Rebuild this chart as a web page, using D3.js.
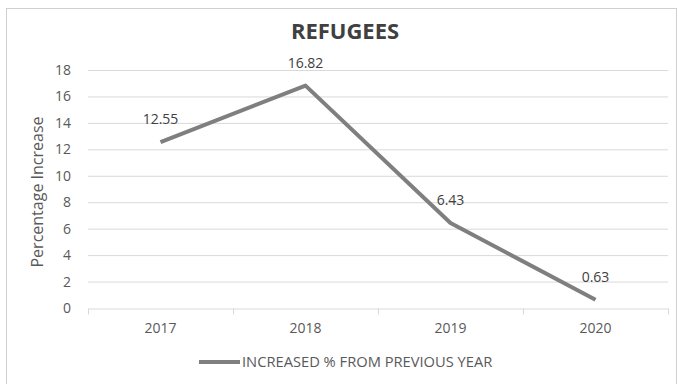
<!DOCTYPE html>
<html><head><meta charset="utf-8">
<script src="https://cdn.jsdelivr.net/npm/d3@7"></script>
<style>body{margin:0;background:#fff}svg{display:block}</style>
</head><body><svg id="c" width="678" height="384"></svg>
<script>
const years = ["2017","2018","2019","2020"];
const values = [12.55, 16.82, 6.43, 0.63];
const yTicks = [0,2,4,6,8,10,12,14,16,18];
const title = "REFUGEES";
const yTitle = "Percentage Increase";
const seriesName = "INCREASED % FROM PREVIOUS YEAR";

const svg = d3.select("#c");
const font = "'Open Sans',sans-serif";
const txt = "#595959";
svg.append("rect").attr("x",6.5).attr("y",8.5).attr("width",670).attr("height",380)
  .attr("fill","#fff").attr("stroke","#d0d0d0");

const L=88,R=668,T=70,B=308;
const x = d3.scaleBand().domain(years).range([L,R]);
const y = d3.scaleLinear().domain([0,18]).range([B,T]);

const g = svg.append("g");
g.selectAll("line.grid").data(yTicks.slice(1)).join("line")
  .attr("x1",L).attr("x2",R).attr("y1",d=>y(d)+0.5).attr("y2",d=>y(d)+0.5)
  .attr("stroke","#d9d9d9");

const ya = svg.append("g").attr("transform",`translate(${L},0)`)
  .call(d3.axisLeft(y).tickValues(yTicks).tickSize(0).tickPadding(17));
ya.select(".domain").remove();
ya.selectAll("text").attr("fill",txt).attr("font-size",14).attr("font-family",font);

const xa = svg.append("g").attr("transform",`translate(0,${B+0.5})`)
  .call(d3.axisBottom(x).tickSize(0).tickPadding(15));
xa.select(".domain").attr("stroke","#d9d9d9");
xa.selectAll("text").attr("fill",txt).attr("font-size",14).attr("font-family",font);
const bounds = years.map(d=>x(d)).concat([R]);
xa.selectAll("line.tk").data(bounds).join("line").attr("class","tk")
  .attr("x1",d=>d+0.5).attr("x2",d=>d+0.5).attr("y1",0).attr("y2",6).attr("stroke","#d9d9d9");

const cx = d=>x(d)+x.bandwidth()/2;
const line = d3.line().x((d,i)=>cx(years[i])).y(d=>y(d));
svg.append("path").datum(values).attr("d",line).attr("fill","none")
  .attr("stroke","#7f7f7f").attr("stroke-width",4).attr("stroke-linejoin","round");

svg.selectAll("text.lbl").data(values).join("text").attr("class","lbl")
  .attr("x",(d,i)=>cx(years[i])).attr("y",d=>y(d)-18)
  .attr("text-anchor","middle").attr("fill","#404040").attr("font-size",14).attr("font-family",font)
  .text(d=>d.toFixed(2));

svg.append("text").attr("x",345).attr("y",39).attr("text-anchor","middle")
  .attr("font-size",22).attr("font-weight","bold").attr("fill","#404040").attr("font-family",font).text(title);

svg.append("text").attr("transform",`translate(43,${(T+B)/2+3}) rotate(-90)`).attr("text-anchor","middle")
  .attr("font-size",16).attr("fill",txt).attr("font-family",font).text(yTitle);

svg.append("line").attr("x1",199).attr("x2",240).attr("y1",362).attr("y2",362)
  .attr("stroke","#7f7f7f").attr("stroke-width",4);
svg.append("text").attr("x",242).attr("y",367).attr("font-size",14.7).attr("fill",txt)
  .attr("font-family",font).text(seriesName);
</script></body></html>
